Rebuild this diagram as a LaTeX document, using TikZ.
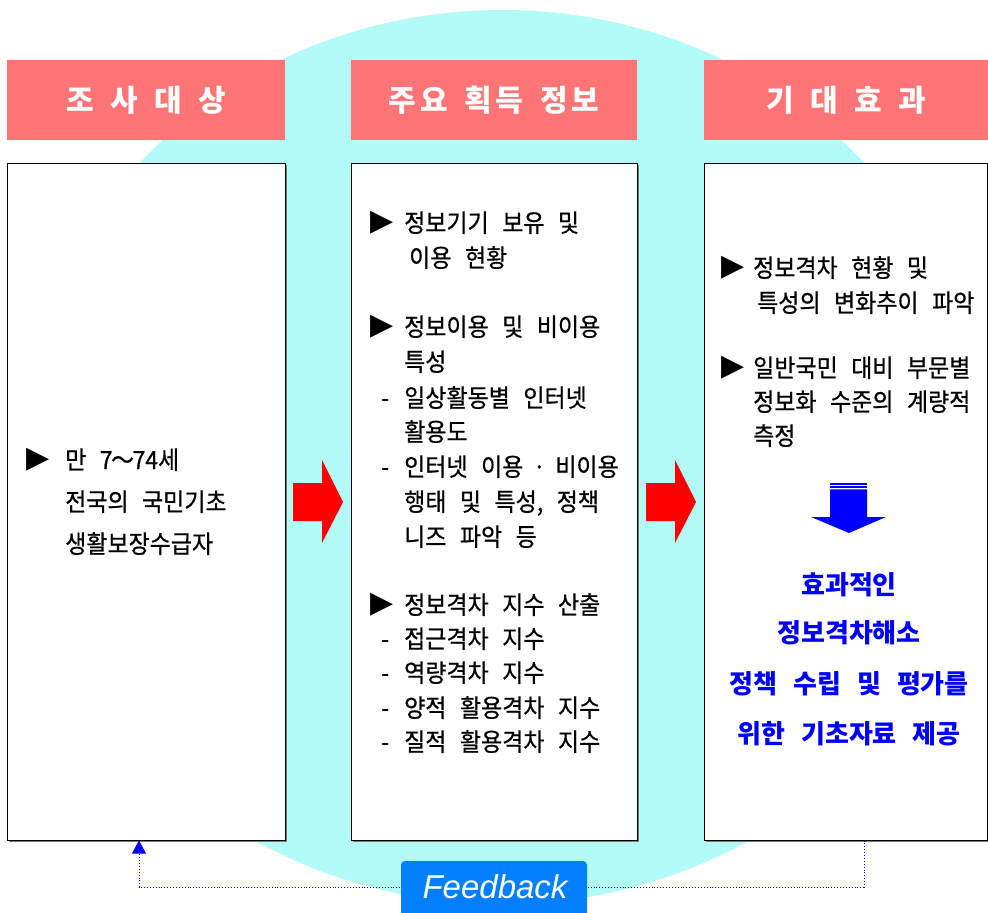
\documentclass[tikz,border=0pt]{standalone}
\usepackage{fontspec}
\usetikzlibrary{arrows.meta,shadows}
\setmainfont{Noto Sans CJK KR}
\newfontfamily\bodyf[FakeStretch=0.919,WordSpace=2.62,FakeBold=0.6]{Noto Sans CJK KR}
\newfontfamily\headf[WordSpace=2]{Noto Sans CJK KR}
\newfontfamily\bluef[WordSpace=2.7]{Noto Sans CJK KR}
\newfontfamily\symf{DejaVu Sans}
\newfontfamily\fbf{Liberation Sans}
\definecolor{cyanbg}{RGB}{178,251,246}
\definecolor{salmon}{RGB}{255,117,117}
\definecolor{fbblue}{RGB}{0,128,255}
\definecolor{shadowgray}{RGB}{120,120,120}
\tikzset{
  hdr/.style={fill=salmon, inner sep=0, minimum height=80pt, text=white,
    font=\headf\bfseries\fontsize{30}{30}\selectfont},
  cbox/.style={draw=black, line width=1pt, fill=white, inner sep=0, minimum height=677pt,
    drop shadow={shadow xshift=1.6pt, shadow yshift=-1.6pt, fill=shadowgray, opacity=1}},
  bt/.style={anchor=base west, inner sep=0, font=\bodyf\fontsize{25}{25}\selectfont},
  mk/.style={anchor=center, inner sep=0, font=\symf\fontsize{30}{30}\selectfont},
  dsh/.style={anchor=base west, inner sep=0, font=\bodyf\fontsize{25}{25}\selectfont},
  bluet/.style={anchor=base, inner sep=0, text=blue, font=\bluef\bfseries\fontsize{26}{26}\selectfont},
  fbline/.style={blue, dotted, line width=0.9pt},
}
\begin{document}
\begin{tikzpicture}[x=1pt,y=-1pt]
\useasboundingbox (0,0) rectangle (988,913);
\clip (0,0) rectangle (988,913);
% background ellipse
\fill[cyanbg] (502,457) ellipse [x radius=481pt, y radius=447pt];
% headers
\node[hdr, minimum width=278pt] (h1) at (146,100) {조\hspace{16.5pt}사\hspace{16.5pt}대\hspace{16.5pt}상};
\node[hdr, minimum width=286pt] (h2) at (494,100) {주\hspace{4pt}요\hspace{16.5pt}획\hspace{4pt}득\hspace{16.5pt}정\hspace{4pt}보};
\node[hdr, minimum width=284pt] (h3) at (846,100) {기\hspace{16.5pt}대\hspace{16.5pt}효\hspace{16.5pt}과};
% content boxes
\node[cbox, minimum width=278pt] (b1) at (146,501.5) {};
\node[cbox, minimum width=286pt] (b2) at (494,501.5) {};
\node[cbox, minimum width=283pt] (b3) at (845.5,501.5) {};
% red arrows
\fill[red] (293,483) -- (322,483) -- (322,460) -- (343,502) -- (322,543) -- (322,521) -- (293,521) -- cycle;
\fill[red] (646,483) -- (675,483) -- (675,460) -- (696,502) -- (675,543) -- (675,521) -- (646,521) -- cycle;
% left box text
\node[mk] (l0) at (38,460) {▶};
\node[bt] (l1) at (65,469) {만 7\makebox[20pt]{～}74세};
\node[bt] (l2) at (65,511) {전국의 국민기초};
\node[bt] (l3) at (65,553) {생활보장수급자};
% middle box text
\node[mk] (mA) at (382,223) {▶};
\node[bt] (m1) at (404,232) {정보기기 보유 및};
\node[bt] (m2) at (409,267) {이용 현황};
\node[mk] (mB) at (382,327) {▶};
\node[bt] (m3) at (404,336) {정보이용 및 비이용};
\node[bt] (m4) at (404,371) {특성};
\node[dsh] (d1) at (381,407) {-};
\node[bt] (m5) at (404,407) {일상활동별 인터넷};
\node[bt] (m6) at (404,441) {활용도};
\node[dsh] (d2) at (381,476) {-};
\node[bt] (m7) at (404,476) {인터넷 이용\makebox[32pt]{·}비이용};
\node[bt] (m8) at (404,511) {행태 및 특성, 정책};
\node[bt] (m9) at (404,546) {니즈 파악 등};
\node[mk] (mC) at (382,605) {▶};
\node[bt] (m10) at (404,614) {정보격차 지수 산출};
\node[dsh] (d3) at (381,648) {-};
\node[bt] (m11) at (404,648) {접근격차 지수};
\node[dsh] (d4) at (381,682) {-};
\node[bt] (m12) at (404,682) {역량격차 지수};
\node[dsh] (d5) at (381,717) {-};
\node[bt] (m13) at (404,717) {양적 활용격차 지수};
\node[dsh] (d6) at (381,751) {-};
\node[bt] (m14) at (404,751) {질적 활용격차 지수};
% right box text
\node[mk] (rA) at (733,268) {▶};
\node[bt] (r1) at (753,277) {정보격차 현황 및};
\node[bt] (r2) at (757,312) {특성의 변화추이 파악};
\node[mk] (rB) at (733,368) {▶};
\node[bt] (r3) at (753,377) {일반국민 대비 부문별};
\node[bt] (r4) at (753,411) {정보화 수준의 계량적};
\node[bt] (r5) at (753,445) {측정};
% blue down arrow
\fill[blue] (830,483) rectangle (867,484.6);
\fill[blue] (830,486.2) rectangle (867,487.8);
\fill[blue] (830,489.4) -- (867,489.4) -- (867,517) -- (886,517) -- (849,533) -- (811,517) -- (830,517) -- cycle;
% blue text
\node[bluet] (t1) at (849,594) {효과적인};
\node[bluet] (t2) at (849,642) {정보격차해소};
\node[bluet] (t3) at (849,693) {정책 수립 및 평가를};
\node[bluet] (t4) at (849,743) {위한 기초자료 제공};
% feedback connector
\coordinate (fbR) at (864,887);
\coordinate (fbL) at (139,887);
\draw[fbline, -{Triangle[width=14pt,length=13pt]}] (b3.south -| fbR) -- (fbR) -- (fbL) -- (b1.south -| fbL);
% feedback box
\fill[fbblue, rounded corners=4pt] (401,930) -- (401,861) -- (587,861) -- (587,930) -- cycle;
\node[inner sep=0, text=white, font=\fbf\itshape\fontsize{33}{33}\selectfont] (fb) at (495,887) {Feedback};
\end{tikzpicture}
\end{document}
